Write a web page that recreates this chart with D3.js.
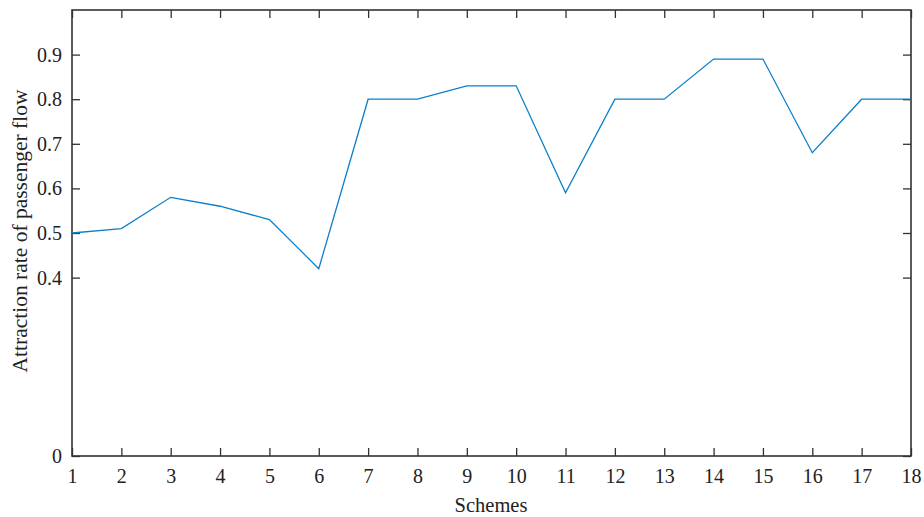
<!DOCTYPE html>
<html>
<head>
<meta charset="utf-8">
<script src="https://cdn.jsdelivr.net/npm/d3@7"></script>
<style>
  html, body { margin: 0; padding: 0; background: #fff; }
  text { font-family: "Liberation Serif", "DejaVu Serif", serif; fill: #222; }
</style>
</head>
<body>
<svg id="chart" width="924" height="517"></svg>
<script>
// Attraction rate for each scheme
const schemes = [1, 2, 3, 4, 5, 6, 7, 8, 9, 10, 11, 12, 13, 14, 15, 16, 17, 18];
const attractionRate = [0.50, 0.51, 0.58, 0.56, 0.53, 0.42, 0.80, 0.80, 0.83, 0.83, 0.59, 0.80, 0.80, 0.89, 0.89, 0.68, 0.80, 0.80];
const yTicks = [0, 0.4, 0.5, 0.6, 0.7, 0.8, 0.9];
const yTickLabels = ["0", "0.4", "0.5", "0.6", "0.7", "0.8", "0.9"];
const xLabel = "Schemes";
const yLabel = "Attraction rate of passenger flow";

const svg = d3.select("#chart");
const plot = { left: 72, right: 911, top: 10, bottom: 456 };
const axisColor = "#333";
const tickLen = 8;

const x = d3.scaleLinear().domain([1, 18]).range([plot.left, plot.right]);
const y = d3.scaleLinear().domain([0, 1]).range([plot.bottom, plot.top]);

// Bottom axis with labels, ticks pointing into the plot
const xAxis = d3.axisBottom(x).tickValues(schemes).tickFormat(d3.format("d"))
  .tickSizeInner(-tickLen).tickSizeOuter(0).tickPadding(13);
const gx = svg.append("g").attr("transform", `translate(0,${plot.bottom})`).call(xAxis);

// Top axis: mirrored ticks only
const gxt = svg.append("g").attr("transform", `translate(0,${plot.top})`)
  .call(d3.axisTop(x).tickValues(schemes).tickFormat("").tickSizeInner(-tickLen).tickSizeOuter(0));

// Left axis with labels
const yAxis = d3.axisLeft(y).tickValues(yTicks).tickFormat((d, i) => yTickLabels[i])
  .tickSizeInner(-tickLen).tickSizeOuter(0).tickPadding(10);
const gy = svg.append("g").attr("transform", `translate(${plot.left},0)`).call(yAxis);

// Right axis: mirrored ticks only
const gyr = svg.append("g").attr("transform", `translate(${plot.right},0)`)
  .call(d3.axisRight(y).tickValues(yTicks).tickFormat("").tickSizeInner(-tickLen).tickSizeOuter(0));

[gx, gxt, gy, gyr].forEach(g => {
  g.select(".domain").remove();
  g.selectAll(".tick line").attr("stroke", axisColor).attr("stroke-width", 1.3);
  g.selectAll(".tick text").attr("font-size", 20).attr("fill", "#222")
    .style("font-family", "'Liberation Serif', 'DejaVu Serif', serif");
});

// Frame around the plot area
svg.append("rect")
  .attr("x", plot.left).attr("y", plot.top)
  .attr("width", plot.right - plot.left).attr("height", plot.bottom - plot.top)
  .attr("fill", "none").attr("stroke", axisColor).attr("stroke-width", 1.6);

// Data line
const line = d3.line().x((d, i) => x(schemes[i])).y(d => y(d));
svg.append("path")
  .datum(attractionRate)
  .attr("d", line)
  .attr("fill", "none")
  .attr("stroke", "#0d7fc9")
  .attr("stroke-width", 1.3)
  .attr("stroke-linejoin", "miter");

// Axis titles
svg.append("text")
  .attr("x", 491).attr("y", 512)
  .attr("text-anchor", "middle").attr("font-size", 20.5)
  .text(xLabel);

svg.append("text")
  .attr("transform", `translate(27,231) rotate(-90)`)
  .attr("text-anchor", "middle").attr("font-size", 21.5)
  .text(yLabel);
</script>
</body>
</html>
